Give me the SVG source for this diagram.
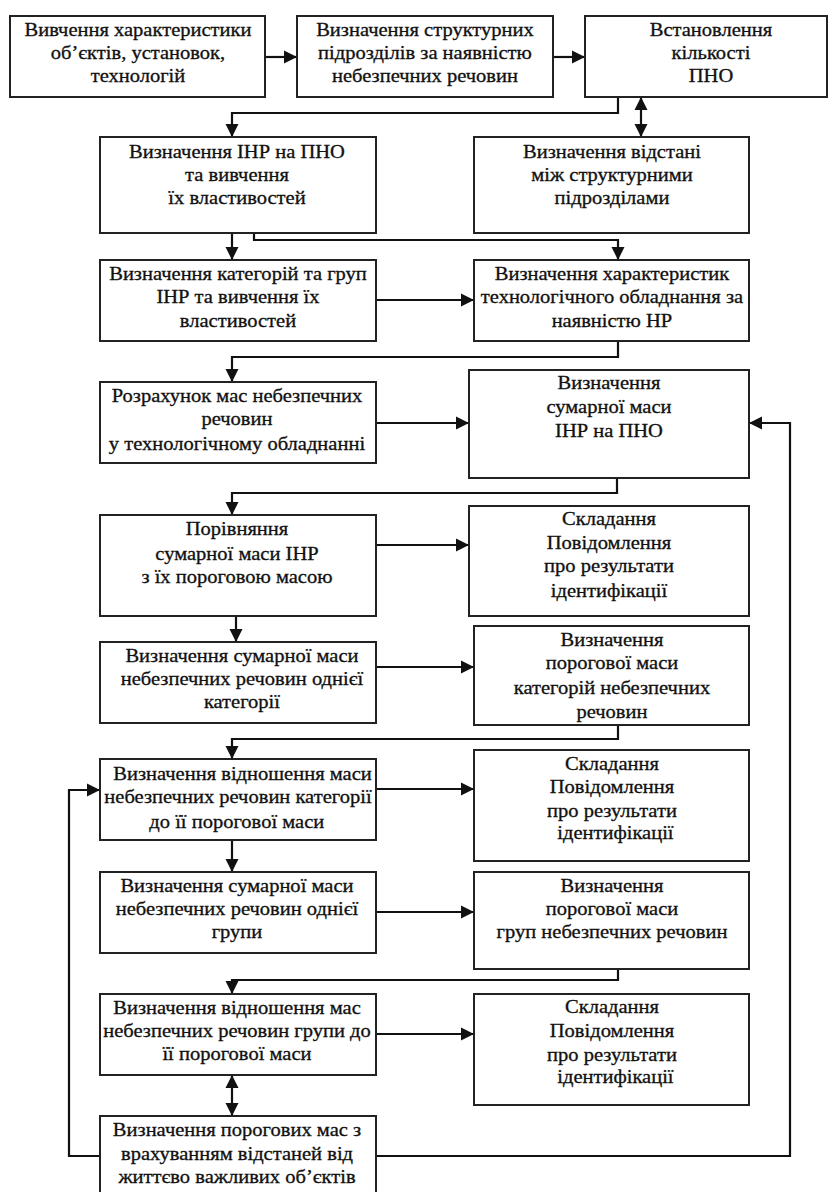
<svg xmlns="http://www.w3.org/2000/svg" width="829" height="1192" viewBox="0 0 829 1192">
  <style>
    .box { fill: #ffffff; stroke: #222222; stroke-width: 2; }
    .lbl { font-family: "Liberation Serif", "Times New Roman", serif; font-size: 18px; fill: #111111; stroke: #111111; stroke-width: 0.3; text-anchor: middle;
           transform-box: fill-box; transform-origin: center; transform: scaleX(1.14); }
    .wire { fill: none; stroke: #111111; stroke-width: 2.2; }
  </style>
  <defs>
    <marker id="arrow" markerUnits="userSpaceOnUse" markerWidth="14" markerHeight="14" viewBox="0 0 14 14" refX="13" refY="7" orient="auto-start-reverse">
      <path d="M0,0.5 L13,7 L0,13.5 z" fill="#111111"/>
    </marker>
  </defs>
  <rect width="829" height="1192" fill="#ffffff"/>

  <!-- connectors -->
  <g id="connectors" class="wire" marker-end="url(#arrow)">
    <path d="M265,57 H297"/>
    <path d="M553,57 H585"/>
    <path d="M618,97 V113 H232 V137"/>
    <path d="M641,97 V137" marker-start="url(#arrow)"/>
    <path d="M232,233 V260"/>
    <path d="M254,230 V240 H618 V260"/>
    <path d="M376,300 H474"/>
    <path d="M618,341 V357 H232 V382"/>
    <path d="M376,423 H469"/>
    <path d="M617,478 V493 H232 V515"/>
    <path d="M376,545 H469"/>
    <path d="M236,616 V642"/>
    <path d="M376,667 H474"/>
    <path d="M618,725 V739 H232 V759"/>
    <path d="M376,789 H474"/>
    <path d="M232,840 V872"/>
    <path d="M376,912 H474"/>
    <path d="M618,969 V980 H232 V994"/>
    <path d="M376,1034 H474"/>
    <path d="M232,1075 V1116" marker-start="url(#arrow)"/>
    <path d="M100,1156 H69 V790 H100"/>
    <path d="M376,1156 H790 V423 H749"/>
  </g>

  <g id="n1">
    <rect class="box" x="10" y="16" width="255" height="81"/>
    <text class="lbl"><tspan x="138" y="36">Вивчення характеристики</tspan><tspan x="138" y="59">об’єктів, установок,</tspan><tspan x="138" y="82">технологій</tspan></text>
  </g>
  <g id="n2">
    <rect class="box" x="297" y="16" width="256" height="81"/>
    <text class="lbl"><tspan x="425" y="36">Визначення структурних</tspan><tspan x="425" y="59">підрозділів за наявністю</tspan><tspan x="425" y="82">небезпечних речовин</tspan></text>
  </g>
  <g id="n3">
    <rect class="box" x="585" y="16" width="242" height="81"/>
    <text class="lbl"><tspan x="711" y="36">Встановлення</tspan><tspan x="711" y="59">кількості</tspan><tspan x="711" y="82">ПНО</tspan></text>
  </g>
  <g id="n4">
    <rect class="box" x="100" y="137" width="276" height="96"/>
    <text class="lbl"><tspan x="237" y="158">Визначення ІНР на ПНО</tspan><tspan x="237" y="181">та вивчення</tspan><tspan x="237" y="204">їх властивостей</tspan></text>
  </g>
  <g id="n5">
    <rect class="box" x="474" y="137" width="275" height="96"/>
    <text class="lbl"><tspan x="612" y="158">Визначення відстані</tspan><tspan x="612" y="181">між структурними</tspan><tspan x="612" y="204">підрозділами</tspan></text>
  </g>
  <g id="n6">
    <rect class="box" x="100" y="260" width="276" height="81"/>
    <text class="lbl"><tspan x="238" y="280">Визначення категорій та груп</tspan><tspan x="238" y="303">ІНР та вивчення їх</tspan><tspan x="238" y="327">властивостей</tspan></text>
  </g>
  <g id="n7">
    <rect class="box" x="474" y="260" width="275" height="81"/>
    <text class="lbl"><tspan x="612" y="280">Визначення характеристик</tspan><tspan x="612" y="303">технологічного обладнання за</tspan><tspan x="612" y="327">наявністю НР</tspan></text>
  </g>
  <g id="n8">
    <rect class="box" x="100" y="382" width="276" height="81"/>
    <text class="lbl"><tspan x="237" y="402">Розрахунок мас небезпечних</tspan><tspan x="237" y="425">речовин</tspan><tspan x="237" y="450">у технологічному обладнанні</tspan></text>
  </g>
  <g id="n9">
    <rect class="box" x="469" y="370" width="280" height="108"/>
    <text class="lbl"><tspan x="609" y="389">Визначення</tspan><tspan x="609" y="413">сумарної маси</tspan><tspan x="609" y="437">ІНР на ПНО</tspan></text>
  </g>
  <g id="n10">
    <rect class="box" x="100" y="515" width="276" height="101"/>
    <text class="lbl"><tspan x="237" y="535">Порівняння</tspan><tspan x="237" y="560">сумарної маси ІНР</tspan><tspan x="237" y="583">з їх пороговою масою</tspan></text>
  </g>
  <g id="n11">
    <rect class="box" x="469" y="506" width="280" height="110"/>
    <text class="lbl"><tspan x="609" y="525">Складання</tspan><tspan x="609" y="549">Повідомлення</tspan><tspan x="609" y="572">про результати</tspan><tspan x="609" y="597">ідентифікації</tspan></text>
  </g>
  <g id="n12">
    <rect class="box" x="100" y="642" width="276" height="81"/>
    <text class="lbl"><tspan x="242" y="662">Визначення сумарної маси</tspan><tspan x="242" y="685">небезпечних речовин однієї</tspan><tspan x="242" y="708">категорії</tspan></text>
  </g>
  <g id="n13">
    <rect class="box" x="474" y="626" width="275" height="99"/>
    <text class="lbl"><tspan x="612" y="646">Визначення</tspan><tspan x="612" y="669">порогової маси</tspan><tspan x="612" y="694">категорій небезпечних</tspan><tspan x="612" y="718">речовин</tspan></text>
  </g>
  <g id="n14">
    <rect class="box" x="100" y="759" width="276" height="81"/>
    <text class="lbl"><tspan x="242" y="780">Визначення відношення маси</tspan><tspan x="238" y="803">небезпечних речовин категорії</tspan><tspan x="237" y="828">до її порогової маси</tspan></text>
  </g>
  <g id="n15">
    <rect class="box" x="474" y="750" width="275" height="111"/>
    <text class="lbl"><tspan x="612" y="770">Складання</tspan><tspan x="612" y="793">Повідомлення</tspan><tspan x="612" y="817">про результати</tspan><tspan x="615" y="839">ідентифікації</tspan></text>
  </g>
  <g id="n16">
    <rect class="box" x="100" y="872" width="276" height="81"/>
    <text class="lbl"><tspan x="237" y="892">Визначення сумарної маси</tspan><tspan x="237" y="915">небезпечних речовин однієї</tspan><tspan x="237" y="938">групи</tspan></text>
  </g>
  <g id="n17">
    <rect class="box" x="474" y="872" width="275" height="97"/>
    <text class="lbl"><tspan x="612" y="892">Визначення</tspan><tspan x="612" y="915">порогової маси</tspan><tspan x="612" y="938">груп небезпечних речовин</tspan></text>
  </g>
  <g id="n18">
    <rect class="box" x="100" y="994" width="276" height="81"/>
    <text class="lbl"><tspan x="237" y="1014">Визначення відношення мас</tspan><tspan x="237" y="1037">небезпечних речовин групи до</tspan><tspan x="237" y="1060">її порогової маси</tspan></text>
  </g>
  <g id="n19">
    <rect class="box" x="474" y="994" width="275" height="111"/>
    <text class="lbl"><tspan x="612" y="1013">Складання</tspan><tspan x="612" y="1037">Повідомлення</tspan><tspan x="612" y="1061">про результати</tspan><tspan x="615" y="1083">ідентифікації</tspan></text>
  </g>
  <g id="n20">
    <rect class="box" x="100" y="1116" width="276" height="90"/>
    <text class="lbl"><tspan x="237" y="1136">Визначення порогових мас з</tspan><tspan x="237" y="1160">врахуванням відстаней від</tspan><tspan x="237" y="1183">життєво важливих об’єктів</tspan></text>
  </g>
</svg>
